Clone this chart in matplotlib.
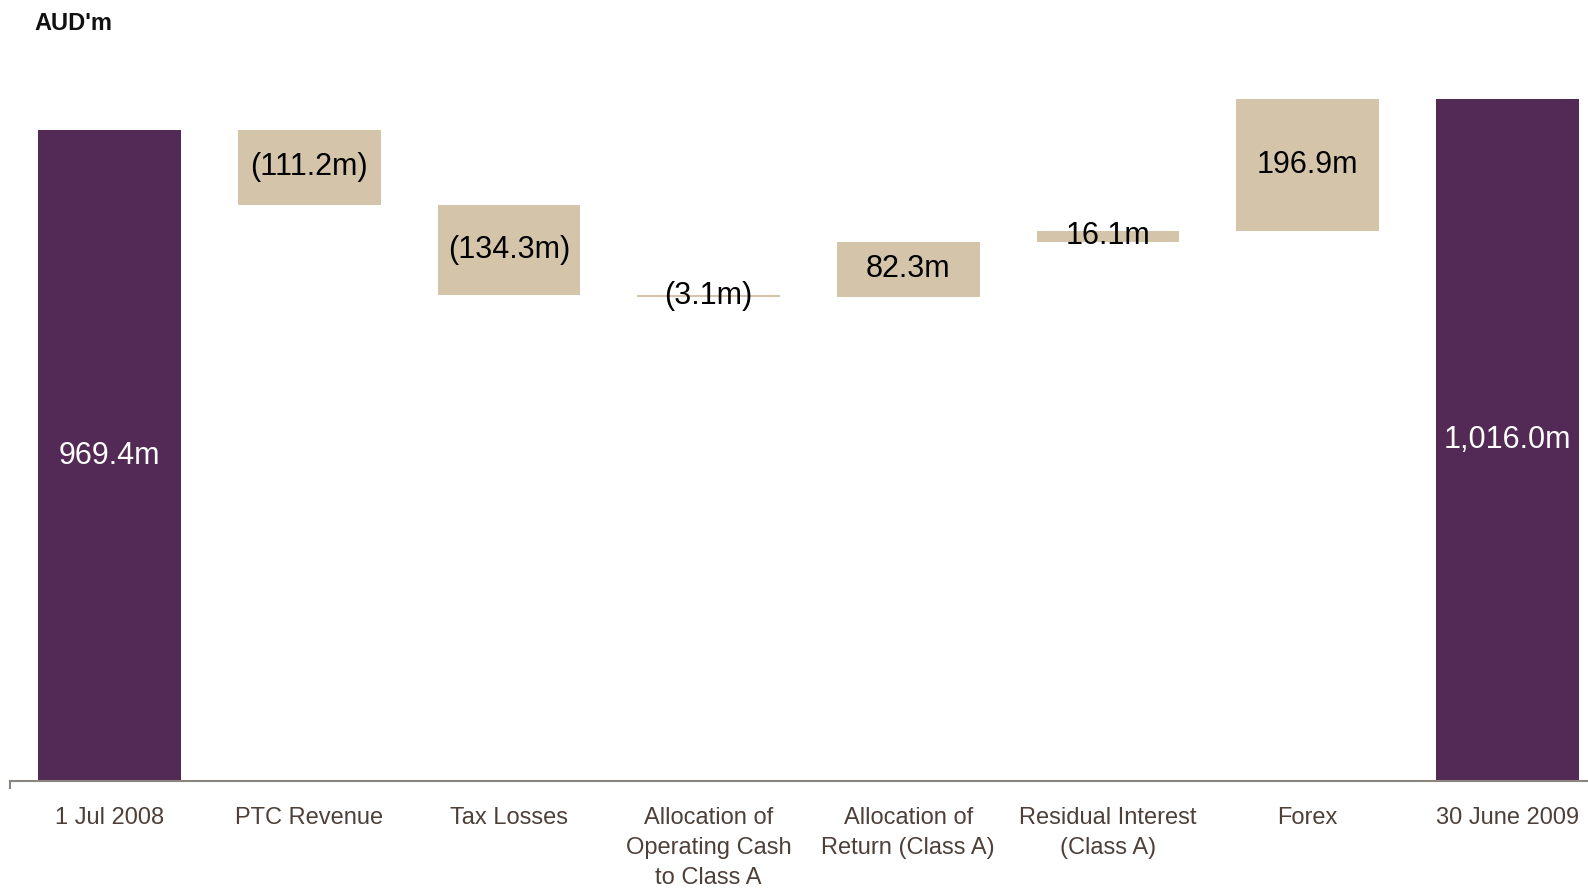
import numpy as np
import matplotlib
matplotlib.use("Agg")
import matplotlib.pyplot as plt

# ── Data ──────────────────────────────────────────────────────────────
categories = ["1 Jul 2008", "PTC Revenue", "Tax Losses",
              "Allocation of\nOperating Cash\nto Class A",
              "Allocation of\nReturn (Class A)",
              "Residual Interest\n(Class A)", "Forex", "30 June 2009"]
opening = 969.4
changes = [-111.2, -134.3, -3.1, 82.3, 16.1, 196.9]
closing = 1016.0
value_labels = ["969.4m", "(111.2m)", "(134.3m)", "(3.1m)", "82.3m",
                "16.1m", "196.9m", "1,016.0m"]

PURPLE = "#532a55"
TAN = "#d4c5aa"
TICK_COL = "#4d4039"

plt.rcParams["font.family"] = ["Liberation Sans", "DejaVu Sans"]

# ── Waterfall geometry ────────────────────────────────────────────────
running = opening + np.concatenate([[0], np.cumsum(changes)])
bottoms = [0.0]
heights = [opening]
for i, c in enumerate(changes):
    lo = min(running[i], running[i + 1])
    bottoms.append(lo)
    heights.append(abs(c))
bottoms.append(0.0)
heights.append(closing)
colors = [PURPLE] + [TAN] * len(changes) + [PURPLE]
text_cols = ["white"] + ["black"] * len(changes) + ["white"]

x = np.arange(len(categories))
bar_w = 0.715

fig = plt.figure(figsize=(15.88, 8.89), dpi=100)
ax = fig.add_axes([10 / 1588, 108 / 889, 1578 / 1588, 781 / 889])

ax.bar(x, heights, bottom=bottoms, width=bar_w, color=colors,
       edgecolor="none")

# Thin bars need a visible minimum line
for xi, b, h in zip(x, bottoms, heights):
    if h < 5:
        ax.hlines(b + h / 2, xi - bar_w / 2, xi + bar_w / 2, color=TAN,
                  lw=1.5, zorder=1)

for xi, b, h, lab, tc in zip(x, bottoms, heights, value_labels, text_cols):
    ax.text(xi, b + h / 2, lab, ha="center", va="center",
            fontsize=22, color=tc)

ax.set_xlim(-0.5, 7.405)
ax.set_ylim(0, 1163)

ax.set_xticks(x)
ax.set_xticklabels(categories, fontsize=17, color=TICK_COL,
                   linespacing=1.45, va="top")
ax.tick_params(axis="x", length=0, pad=19)
ax.set_yticks([])

for s in ["top", "right", "left"]:
    ax.spines[s].set_visible(False)
ax.spines["bottom"].set_color("#8a8580")
ax.spines["bottom"].set_linewidth(1.5)
ax.plot([0, 0], [0, -0.009], transform=ax.transAxes, color="#8a8580",
        lw=1.5, clip_on=False)

fig.text(34 / 1588, 1 - 24 / 889, "AUD'm", fontsize=17, fontweight="bold",
         color="#111111", va="center", ha="left")

fig.savefig("out.png", dpi=100)
